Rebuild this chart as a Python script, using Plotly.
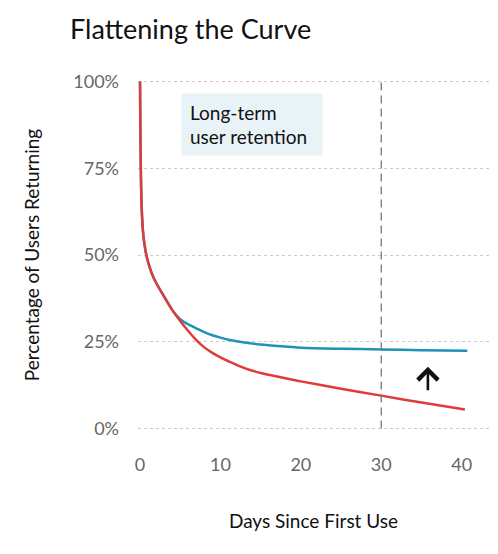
import plotly.graph_objects as go

# days since first use / % of users returning
days_old = [0, 0.05, 0.1, 0.2, 0.4, 0.7, 1, 1.5, 2, 3, 4, 5, 6, 7, 8, 9, 10, 11, 13, 15, 17.5, 20, 25, 30, 35, 40.4]
pct_old = [100, 85, 75, 64, 56, 51, 48, 44.5, 42, 38, 34.2, 31, 28.1, 25.5, 23.4, 21.8, 20.5, 19.4, 17.4, 16.0, 14.8, 13.6, 11.5, 9.5, 7.5, 5.5]

days_new = [0, 0.05, 0.1, 0.2, 0.4, 0.7, 1, 1.5, 2, 3, 4, 4.5, 5, 6, 7, 8, 9, 10, 11, 13, 15, 17.5, 20, 25, 30, 35, 40.7]
pct_new = [100, 85, 75, 64, 56, 51, 48, 44.5, 42, 38, 34.2, 32.7, 31.5, 30.0, 28.9, 27.8, 26.9, 26.2, 25.6, 24.8, 24.2, 23.7, 23.3, 23.0, 22.8, 22.6, 22.4]

cutoff_day = 30
arrow_x = 35.8
arrow_tail = 10.6
arrow_tip = 17.8

y_ticks = [0, 25, 50, 75, 100]
y_labels = [f"{v}%" for v in y_ticks]
x_ticks = [0, 10, 20, 30, 40]

fnt = "Lato, Inter, sans-serif"

fig = go.Figure()
fig.add_trace(go.Scatter(x=days_new, y=pct_new, mode="lines", line=dict(color="#2192b6", width=2.5, shape="spline", smoothing=0.8)))
fig.add_trace(go.Scatter(x=days_old, y=pct_old, mode="lines", line=dict(color="#df3b3b", width=2.5, shape="spline", smoothing=0.8)))

# dashed marker at day 30
fig.add_shape(type="line", x0=cutoff_day, x1=cutoff_day, y0=0, y1=100, xref="x", yref="y",
              line=dict(color="#777777", width=1.3, dash="8px,5px"))

# arrow
fig.add_annotation(x=arrow_x, y=arrow_tip, ax=arrow_x, ay=arrow_tail, xref="x", yref="y", axref="x", ayref="y",
                   text="", showarrow=True, arrowhead=4, arrowsize=1.5, arrowwidth=2.6, arrowcolor="#111111")

fig.add_annotation(x=(181 - 138) / 351, y=0.963, xref="paper", yref="paper", xanchor="left", yanchor="top",
                   text="Long-term<br>user retention", showarrow=False, align="left",
                   bgcolor="#e8f3f8", borderpad=8, width=124, height=45,
                   font=dict(family=fnt, size=19, color="#111111"))

fig.update_layout(
    width=490, height=546,
    margin=dict(l=130, r=9, t=72, b=124),
    paper_bgcolor="white", plot_bgcolor="white",
    showlegend=False,
    font=dict(family=fnt, color="#666666", size=18),
    title=dict(text="Flattening the Curve", x=62 / 490, xanchor="left", y=0.978, yanchor="top",
               font=dict(family=fnt, size=27, color="#111111")),
    xaxis=dict(range=[-0.25, 43.4], tickvals=x_ticks, showgrid=False, zeroline=False, showline=False,
               ticklabelstandoff=22, automargin=False,
               title=dict(text="Days Since First Use", standoff=40, font=dict(size=19, color="#111111"))),
    yaxis=dict(range=[-0.4, 100.4], tickvals=y_ticks, ticktext=y_labels, showgrid=True, gridcolor="#cccccc",
               griddash="3px,3px", gridwidth=1, zeroline=False, showline=False, ticklabelstandoff=18,
               automargin=False,
               title=dict(text="Percentage of Users Returning", standoff=28, font=dict(size=19, color="#111111"))),
)

fig.write_html("out.html")
